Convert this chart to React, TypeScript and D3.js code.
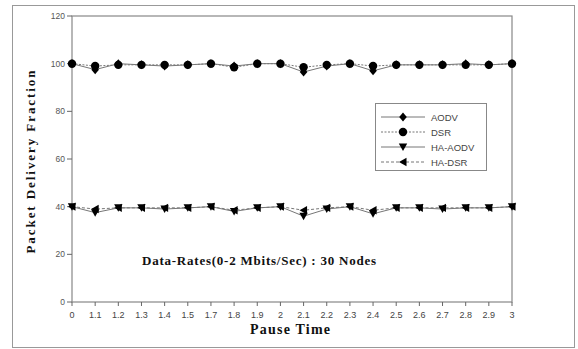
import React from "react";
import * as d3 from "d3";

const categories = ["0","1.1","1.2","1.3","1.4","1.5","1.7","1.8","1.9","2","2.1","2.2","2.3","2.4","2.5","2.6","2.7","2.8","2.9","3"];
const aodv = [100, 97.5, 100, 99.5, 99, 99.5, 100, 99, 100, 100, 96.5, 99, 100, 97, 99.5, 99.5, 99.5, 100, 99.5, 100];
const dsr = [100, 99, 99.5, 99.5, 99.5, 99.5, 100, 98.5, 100, 100, 98.5, 99.5, 100, 99, 99.5, 99.5, 99.5, 99.5, 99.5, 100];
const haAodv = [40, 37.5, 39.5, 39.5, 39, 39.5, 40, 38, 39.5, 40, 36, 39, 40, 37, 39.5, 39.5, 39, 39.5, 39.5, 40];
const haDsr = [40, 39, 39.5, 39.5, 39.5, 39.5, 40, 38.5, 39.5, 40, 38.5, 39.5, 40, 38.5, 39.5, 39.5, 39.5, 39.5, 39.5, 40];
const yTicks = [0, 20, 40, 60, 80, 100, 120];
const seriesNames = ["AODV", "DSR", "HA-AODV", "HA-DSR"];

type Marker = "diamond" | "circle" | "tdown" | "tleft";
const series: { name: string; values: number[]; marker: Marker; dash: string }[] = [
  { name: seriesNames[0], values: aodv, marker: "diamond", dash: "none" },
  { name: seriesNames[1], values: dsr, marker: "circle", dash: "2,1.5" },
  { name: seriesNames[2], values: haAodv, marker: "tdown", dash: "none" },
  { name: seriesNames[3], values: haDsr, marker: "tleft", dash: "3,2" },
];

function MarkerShape({ type, x, y }: { type: Marker; x: number; y: number }) {
  if (type === "circle") return <circle cx={x} cy={y} r={4.2} fill="#000" />;
  if (type === "diamond")
    return <path d={`M${x},${y - 4.5}L${x + 3.8},${y}L${x},${y + 4.5}L${x - 3.8},${y}Z`} fill="#000" />;
  if (type === "tdown")
    return <path d={`M${x - 4.2},${y - 3.5}L${x + 4.2},${y - 3.5}L${x},${y + 4}Z`} fill="#000" />;
  return <path d={`M${x + 3.5},${y - 4.2}L${x + 3.5},${y + 4.2}L${x - 4},${y}Z`} fill="#000" />;
}

export default function App() {
  const W = 578, H = 349;
  const left = 72, right = 512, top = 16, bottom = 302;
  const x = d3.scalePoint<string>().domain(categories).range([left, right]);
  const y = d3.scaleLinear().domain([0, 120]).range([bottom, top]);
  const line = d3.line<number>().x((_, i) => x(categories[i])!).y((d) => y(d));
  const tickFont = "'Liberation Sans', Arial, sans-serif";
  const serif = "'Liberation Serif', 'DejaVu Serif', serif";
  const legendX = 375, legendY = 103;

  return (
    <svg width={W} height={H} style={{ position: "absolute", left: 0, top: 0 }}>
      <rect x={0} y={0} width={W} height={H} fill="#fff" />
      <rect x={12.5} y={5.5} width={562} height={342} fill="none" stroke="#999" strokeWidth={1} />
      <rect x={left} y={top} width={right - left} height={bottom - top} fill="none" stroke="#888" strokeWidth={1.2} />
      {yTicks.map((t) => (
        <g key={t}>
          <line x1={left - 5} x2={left} y1={y(t)} y2={y(t)} stroke="#666" />
          <text x={left - 7} y={y(t) + 3} textAnchor="end" fontSize={8.5} fill="#555" fontFamily={tickFont}>{t}</text>
        </g>
      ))}
      {categories.map((c) => (
        <g key={c}>
          <line x1={x(c)} x2={x(c)} y1={bottom} y2={bottom + 4} stroke="#666" />
          <text x={x(c)} y={bottom + 16} textAnchor="middle" fontSize={9} fill="#444" fontFamily={tickFont}>{c}</text>
        </g>
      ))}
      {series.map((s) => (
        <g key={s.name}>
          <path d={line(s.values)!} fill="none" stroke="#777" strokeWidth={1} strokeDasharray={s.dash} />
          {s.values.map((v, i) => (
            <MarkerShape key={i} type={s.marker} x={x(categories[i])!} y={y(v)} />
          ))}
        </g>
      ))}
      <rect x={legendX + 0.5} y={legendY + 0.5} width={111} height={67} fill="#fff" stroke="#888" />
      {series.map((s, i) => {
        const ly = legendY + 14 + i * 15;
        return (
          <g key={s.name}>
            <line x1={legendX + 6} x2={legendX + 50} y1={ly} y2={ly} stroke="#777" strokeDasharray={s.dash} />
            <MarkerShape type={s.marker} x={legendX + 28} y={ly} />
            <text x={legendX + 56} y={ly + 3.5} fontSize={9.5} fill="#444" fontFamily={tickFont}>{s.name}</text>
          </g>
        );
      })}
      <text x={142} y={265} textLength={234} lengthAdjust="spacing" fontSize={13} fontWeight="bold" fontFamily={serif} fill="#111">Data-Rates(0-2 Mbits/Sec) : 30 Nodes</text>
      <text x={250} y={334} textLength={80} lengthAdjust="spacing" fontSize={14} fontWeight="bold" fontFamily={serif} fill="#111">Pause Time</text>
      <text transform={`translate(35,162) rotate(-90)`} textAnchor="middle" textLength={183} lengthAdjust="spacing" fontSize={13} fontWeight="bold" fontFamily={serif} fill="#111">Packet Delivery Fraction</text>
    </svg>
  );
}
